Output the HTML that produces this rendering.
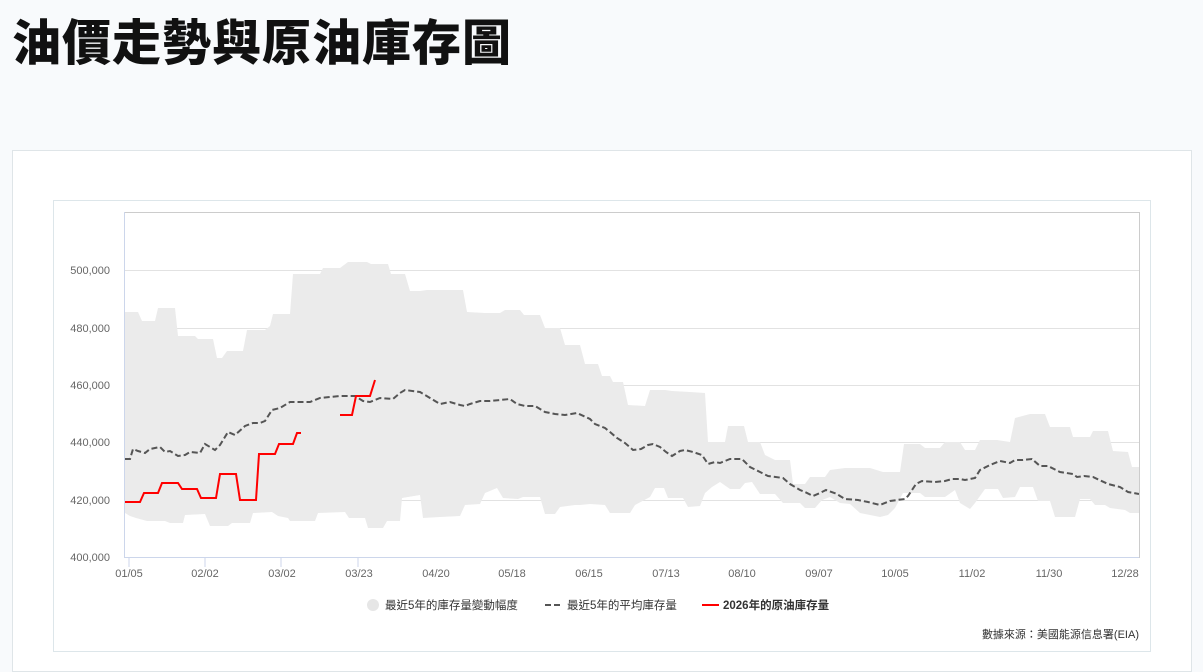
<!DOCTYPE html>
<html><head><meta charset="utf-8"><style>
body{margin:0;width:1203px;height:663px;background:#f8fafc;overflow:hidden;font-family:"Liberation Sans","Noto Sans CJK TC",sans-serif;position:relative}
h1{position:absolute;left:12px;top:4px;margin:0;font-size:49px;font-weight:900;color:#111;letter-spacing:1px;font-family:"Noto Sans CJK TC","Liberation Sans",sans-serif}
.card{position:absolute;left:12px;top:150px;width:1178px;height:520px;background:#fff;border:1px solid #dfe5e8}
.inner{position:absolute;left:53px;top:200px;width:1096px;height:450px;border:1px solid #dde6ea;background:#fff}
</style></head><body>
<h1>油價走勢與原油庫存圖</h1>
<div class="card"></div>
<div class="inner"></div>
<svg style="position:absolute;left:0;top:0" width="1203" height="663">
<g stroke="#e2e2e2" stroke-width="1">
<line x1="125" y1="270.5" x2="1139" y2="270.5"/><line x1="125" y1="328.5" x2="1139" y2="328.5"/><line x1="125" y1="385.5" x2="1139" y2="385.5"/><line x1="125" y1="442.5" x2="1139" y2="442.5"/><line x1="125" y1="500.5" x2="1139" y2="500.5"/>
</g>
<polygon fill="#ebebeb" points="125,312 138,312 142,321 155,321 158,308 175,308 178,336 195,336 198,339 213,339 217,358 222,358 227,351 243,351 247,330 265,330 270,326 273,314 290,314 293,274 320,274 323,268 340,268 348,262 367,262 371,264 388,264 391,274 405,274 410,291 420,291 427,290 463,290 467,312 485,313 500,313 505,310 520,310 524,315 540,315 545,328 560,328 565,345 580,345 585,364 598,364 602,376 610,376 613,382 623,382 628,405 645,406 650,390 665,390 672,391 690,392 705,393 708,442 725,442 728,426 744,426 748,442 760,442 765,455 775,460 790,460 793,484 805,484 810,477 825,477 830,470 845,468 870,468 883,472 900,472 904,444 920,444 925,448 940,448 945,442 960,442 965,450 975,450 980,440 997,440 1010,442 1015,418 1030,414 1045,414 1050,427 1070,427 1073,437 1090,437 1093,431 1108,431 1113,451 1128,452 1132,467 1139,467 1139,513 1130,513 1125,510 1110,508 1105,505 1095,505 1090,499 1080,499 1075,517 1055,517 1050,501 1038,501 1033,487 1020,487 1015,497 1003,498 998,489 985,489 975,503 970,509 960,503 955,490 945,497 925,497 920,493 903,493 895,508 888,515 880,517 870,515 860,513 850,504 840,503 830,497 822,500 815,508 805,508 800,503 783,503 775,494 760,494 752,482 745,483 740,489 730,489 720,482 712,487 705,493 700,506 688,507 683,498 668,498 664,488 655,488 650,497 635,505 630,513 610,513 605,505 590,504 580,505 575,505 560,507 555,514 545,514 540,497 523,497 518,499 503,498 497,488 485,493 480,504 465,505 460,516 440,517 423,518 420,495 402,498 400,521 387,521 383,528 368,528 365,518 349,518 345,512 318,513 315,521 290,521 288,518 278,516 272,512 253,513 250,523 232,523 228,526 210,526 205,514 185,515 183,523 170,523 165,521 147,521 136,518 130,516 125,513"/>
<polyline fill="none" stroke="#555" stroke-width="2" stroke-dasharray="6,3" points="125,459 130,459 133,449 138,451 145,453 150,449 160,447 165,452 170,451 178,456 185,455 190,452 200,453 205,444 210,447 215,450 220,445 228,432 235,435 245,426 253,423 260,423 265,421 272,410 280,408 290,402 310,402 320,398 340,396 355,396 363,401 370,402 380,398 393,399 400,393 405,390 420,392 430,398 440,404 450,402 460,405 465,406 470,404 480,401 490,401 500,400 510,399 517,404 525,406 535,406 545,412 555,414 565,415 577,413 590,419 595,424 605,428 610,432 617,438 625,443 633,450 641,449 648,445 653,444 660,447 666,452 672,456 680,451 685,450 693,452 702,455 708,464 715,462 720,463 730,459 742,459 750,467 760,472 768,476 783,478 790,484 800,490 805,492 813,496 820,493 826,490 837,494 840,496 845,499 858,500 868,502 880,505 890,501 897,500 905,499 908,496 916,484 922,481 935,482 945,481 952,479 960,479 965,480 975,478 980,470 990,465 1000,461 1010,463 1015,460 1023,460 1032,459 1040,466 1048,466 1060,472 1073,474 1077,477 1084,476 1093,477 1108,484 1120,487 1128,492 1139,494"/>
<g fill="none" stroke="#f00" stroke-width="2">
<polyline points="125,502 140,502 144,493 158,493 162,483 178,483 182,489 197,489 201,498 216,498 220,474 236,474 240,500 256,500 259,454 275,454 279,444 293,444 297,433 301,433"/>
<polyline points="340,415 352,415 356,396 370,396 375,380"/>
</g>
<rect x="124.5" y="212.5" width="1015" height="345" fill="none" stroke="#ccc"/>
<line x1="124.5" y1="212" x2="124.5" y2="557.5" stroke="#ccd6eb"/>
<line x1="124" y1="557.5" x2="1139" y2="557.5" stroke="#ccd6eb"/>
<g stroke="#ccd6eb"><line x1="129" y1="557" x2="129" y2="567"/><line x1="205" y1="557" x2="205" y2="567"/><line x1="281" y1="557" x2="281" y2="567"/><line x1="358" y1="557" x2="358" y2="567"/></g>
<g font-size="11" fill="#666" text-anchor="end" font-family="Liberation Sans,sans-serif">
<text x="110" y="274">500,000</text><text x="110" y="332">480,000</text><text x="110" y="389">460,000</text><text x="110" y="446">440,000</text><text x="110" y="504">420,000</text><text x="110" y="561">400,000</text>
</g>
<g font-size="11" fill="#666" text-anchor="middle" font-family="Liberation Sans,sans-serif">
<text x="129" y="577">01/05</text><text x="205" y="577">02/02</text><text x="282" y="577">03/02</text><text x="359" y="577">03/23</text><text x="436" y="577">04/20</text><text x="512" y="577">05/18</text><text x="589" y="577">06/15</text><text x="666" y="577">07/13</text><text x="742" y="577">08/10</text><text x="819" y="577">09/07</text><text x="895" y="577">10/05</text><text x="972" y="577">11/02</text><text x="1049" y="577">11/30</text><text x="1125" y="577">12/28</text>
</g>
<circle cx="373" cy="605" r="6" fill="#e6e6e6"/>
<line x1="545" y1="605" x2="562" y2="605" stroke="#555" stroke-width="2" stroke-dasharray="6,3"/>
<line x1="702" y1="605" x2="719" y2="605" stroke="#f00" stroke-width="2"/>
<g font-size="11.5" fill="#333" font-family="Liberation Sans,Noto Sans CJK TC,sans-serif">
<text x="385" y="609">最近5年的庫存量變動幅度</text>
<text x="567" y="609">最近5年的平均庫存量</text>
<text x="723" y="609" font-weight="bold">2026年的原油庫存量</text>
<text x="1139" y="638" text-anchor="end" font-size="11">數據來源：美國能源信息署(EIA)</text>
</g>
</svg>
</body></html>
